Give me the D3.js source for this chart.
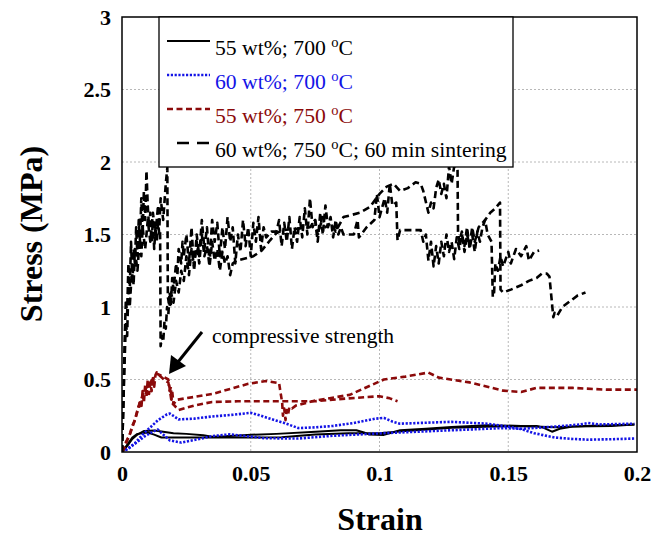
<!DOCTYPE html>
<html>
<head>
<meta charset="utf-8">
<script src="https://cdn.jsdelivr.net/npm/d3@7"></script>
<style>
  html, body { margin: 0; padding: 0; background: #fff; }
  svg { display: block; }
  text { font-family: "Liberation Serif", "Times New Roman", serif; }
</style>
</head>
<body>
<svg id="chart" width="662" height="537"></svg>
<script>
// ---------------- data ----------------
const xTicks = [0, 0.05, 0.1, 0.15, 0.2];
const xTickLabels = ["0", "0.05", "0.1", "0.15", "0.2"];
const yTicks = [0, 0.5, 1, 1.5, 2, 2.5, 3];
const yTickLabels = ["0", "0.5", "1", "1.5", "2", "2.5", "3"];

const seriesNames = ["55 wt%; 700 ", "60 wt%; 700 ", "55 wt%; 750 ", "60 wt%; 750 "];
const seriesSuffix = ["C", "C", "C", "C; 60 min sintering"];

// 55 wt%; 700 °C (two samples)
const k55_700_a = [[0,0],[0.002,0.04],[0.004,0.09],[0.006,0.12],[0.0086,0.145],[0.0126,0.148],[0.016,0.14],[0.02,0.13],[0.025,0.125],[0.0316,0.115],[0.035,0.105],[0.04,0.108],[0.0486,0.118],[0.06,0.125],[0.0752,0.14],[0.085,0.15],[0.091,0.15],[0.094,0.135],[0.096,0.12],[0.1017,0.118],[0.105,0.135],[0.108,0.15],[0.118,0.16],[0.128,0.172],[0.142,0.185],[0.155,0.18],[0.168,0.17],[0.18,0.18],[0.19,0.185],[0.199,0.19]];
const k55_700_b = [[0,0],[0.002,0.05],[0.004,0.1],[0.006,0.125],[0.0099,0.135],[0.0125,0.12],[0.0153,0.1],[0.02,0.1],[0.03,0.1],[0.04,0.1],[0.05,0.1],[0.062,0.102],[0.075,0.12],[0.088,0.13],[0.1,0.13],[0.11,0.145],[0.128,0.168],[0.145,0.175],[0.161,0.18],[0.164,0.165],[0.167,0.14],[0.17,0.16],[0.175,0.175],[0.19,0.18],[0.199,0.19]];

// 60 wt%; 700 °C (two samples)
const b60_700_a = [[0,0],[0.002,0.02],[0.005,0.06],[0.008,0.12],[0.011,0.17],[0.014,0.22],[0.0175,0.26],[0.0186,0.265],[0.022,0.225],[0.028,0.23],[0.035,0.245],[0.042,0.255],[0.0499,0.27],[0.054,0.25],[0.0592,0.22],[0.063,0.2],[0.0685,0.165],[0.075,0.17],[0.082,0.18],[0.09,0.2],[0.0985,0.23],[0.1017,0.235],[0.105,0.21],[0.108,0.195],[0.115,0.2],[0.128,0.208],[0.142,0.195],[0.15,0.175],[0.155,0.158],[0.16,0.13],[0.168,0.1],[0.175,0.09],[0.181,0.085],[0.19,0.088],[0.199,0.093]];
const b60_700_b = [[0,0],[0.003,0.03],[0.006,0.07],[0.009,0.11],[0.012,0.14],[0.0139,0.155],[0.016,0.12],[0.0186,0.08],[0.023,0.065],[0.03,0.09],[0.0352,0.11],[0.042,0.122],[0.048,0.11],[0.0553,0.095],[0.0685,0.093],[0.0819,0.112],[0.1017,0.13],[0.115,0.14],[0.128,0.15],[0.148,0.165],[0.155,0.16],[0.168,0.175],[0.178,0.19],[0.181,0.2],[0.185,0.19],[0.199,0.195]];

// 55 wt%; 750 °C (two samples)
const r55_750_a = [[0,0],[0.001,0.03],[0.002,0.08],[0.003,0.12],[0.004,0.18],[0.005,0.22],[0.006,0.28],[0.0065,0.3],[0.007,0.36],[0.0075,0.3],[0.008,0.42],[0.0085,0.34],[0.009,0.46],[0.0095,0.38],[0.010,0.5],[0.0105,0.4],[0.011,0.48],[0.0115,0.42],[0.012,0.52],[0.0125,0.45],[0.013,0.53],[0.0135,0.55],[0.015,0.52],[0.017,0.49],[0.018,0.48],[0.0185,0.42],[0.019,0.45],[0.0192,0.36],[0.0195,0.42],[0.020,0.33],[0.0212,0.36],[0.035,0.40],[0.049,0.47],[0.056,0.49],[0.061,0.475],[0.0622,0.34],[0.0625,0.25],[0.063,0.3],[0.0635,0.22],[0.064,0.29],[0.0645,0.26],[0.065,0.31],[0.066,0.3],[0.0675,0.32],[0.0752,0.355],[0.0884,0.394],[0.1017,0.5],[0.11,0.52],[0.119,0.548],[0.123,0.513],[0.135,0.48],[0.148,0.423],[0.155,0.414],[0.161,0.442],[0.175,0.442],[0.188,0.43],[0.2,0.43]];
const r55_750_b = [[0,0],[0.001,0.05],[0.003,0.12],[0.005,0.22],[0.0063,0.31],[0.0089,0.43],[0.011,0.48],[0.0135,0.54],[0.016,0.52],[0.018,0.5],[0.0193,0.34],[0.022,0.29],[0.028,0.32],[0.035,0.345],[0.045,0.35],[0.06,0.35],[0.075,0.35],[0.088,0.37],[0.1,0.385],[0.104,0.37],[0.107,0.35]];

// 60 wt%; 750 °C; 60 min sintering (two samples)
const k60_750_a = [[0,0],[0.0005,0.3],[0.001,0.75],[0.0015,1.05],[0.002,0.95],[0.0025,1.3],[0.003,1.1],[0.0035,1.45],[0.004,1.2],[0.0045,1.4],[0.005,1.3],[0.0055,1.55],[0.006,1.35],[0.0065,1.6],[0.007,1.45],[0.0075,1.75],[0.008,1.5],[0.0085,1.8],[0.009,1.6],[0.0095,1.94],[0.010,1.7],[0.0105,1.55],[0.011,1.65],[0.0115,1.45],[0.012,1.6],[0.0125,1.4],[0.013,1.55],[0.0135,1.45],[0.014,1.58],[0.0145,1.5],[0.0148,1.52],[0.0150,0.73],[0.0155,0.8],[0.016,0.76],[0.0165,0.9],[0.017,0.85],[0.0175,1.0],[0.018,0.95],[0.0185,1.1],[0.019,1.02],[0.0195,1.2],[0.020,1.12],[0.021,1.3],[0.0215,1.22],[0.022,1.4],[0.023,1.3],[0.0235,1.45],[0.024,1.35],[0.025,1.5],[0.026,1.3],[0.027,1.55],[0.028,1.25],[0.029,1.5],[0.030,1.35],[0.031,1.6],[0.032,1.4],[0.033,1.55],[0.034,1.3],[0.035,1.6],[0.036,1.45],[0.037,1.58],[0.038,1.35],[0.039,1.55],[0.040,1.4],[0.041,1.62],[0.042,1.45],[0.043,1.55],[0.044,1.3],[0.045,1.5],[0.046,1.38],[0.047,1.6],[0.048,1.42],[0.049,1.55],[0.050,1.35],[0.051,1.58],[0.052,1.45],[0.053,1.62],[0.054,1.4],[0.055,1.55],[0.056,1.48],[0.057,1.5],[0.058,1.52],[0.060,1.52],[0.061,1.6],[0.062,1.42],[0.063,1.58],[0.064,1.45],[0.065,1.62],[0.066,1.4],[0.067,1.55],[0.068,1.45],[0.069,1.62],[0.070,1.48],[0.071,1.68],[0.072,1.5],[0.073,1.75],[0.074,1.55],[0.075,1.6],[0.076,1.45],[0.077,1.65],[0.078,1.5],[0.079,1.7],[0.080,1.55],[0.081,1.62],[0.082,1.48],[0.083,1.6],[0.084,1.5],[0.085,1.55],[0.086,1.5],[0.09,1.5],[0.0915,1.6],[0.092,1.48],[0.095,1.55],[0.098,1.6],[0.099,1.78],[0.100,1.62],[0.102,1.75],[0.103,1.65],[0.104,1.85],[0.105,1.7],[0.1065,1.72],[0.107,1.46],[0.108,1.53],[0.116,1.53],[0.117,1.45],[0.118,1.5],[0.119,1.32],[0.120,1.45],[0.121,1.28],[0.122,1.42],[0.123,1.3],[0.124,1.45],[0.125,1.35],[0.126,1.5],[0.127,1.38],[0.128,1.45],[0.129,1.33],[0.130,1.48],[0.131,1.4],[0.132,1.5],[0.133,1.42],[0.134,1.55],[0.135,1.4],[0.136,1.5],[0.137,1.38],[0.138,1.52],[0.139,1.45],[0.140,1.55],[0.141,1.6],[0.142,1.5],[0.1435,1.45],[0.144,1.07],[0.1445,1.1],[0.145,1.3],[0.146,1.25],[0.147,1.35],[0.148,1.28],[0.150,1.38],[0.151,1.3],[0.153,1.4],[0.155,1.35],[0.157,1.42],[0.158,1.32],[0.160,1.38],[0.162,1.39]];
const k60_750_b = [[0,0],[0.0008,0.5],[0.0015,0.9],[0.002,0.8],[0.0025,1.15],[0.003,1.0],[0.004,1.3],[0.0045,1.15],[0.005,1.4],[0.006,1.25],[0.007,1.5],[0.0075,1.35],[0.008,1.55],[0.009,1.4],[0.010,1.6],[0.011,1.45],[0.012,1.65],[0.013,1.5],[0.014,1.7],[0.0145,1.55],[0.015,1.75],[0.016,1.6],[0.017,1.85],[0.0176,1.96],[0.0178,1.07],[0.0185,1.0],[0.019,1.1],[0.020,1.03],[0.021,1.18],[0.022,1.1],[0.023,1.25],[0.024,1.18],[0.025,1.35],[0.026,1.22],[0.027,1.4],[0.028,1.28],[0.029,1.45],[0.030,1.3],[0.031,1.5],[0.032,1.35],[0.033,1.42],[0.034,1.28],[0.035,1.45],[0.036,1.32],[0.037,1.4],[0.038,1.25],[0.039,1.38],[0.040,1.3],[0.041,1.35],[0.042,1.22],[0.043,1.3],[0.0445,1.32],[0.051,1.35],[0.0543,1.39],[0.0575,1.46],[0.060,1.51],[0.0627,1.53],[0.0678,1.54],[0.073,1.55],[0.075,1.6],[0.076,1.5],[0.078,1.62],[0.079,1.55],[0.081,1.58],[0.083,1.52],[0.086,1.62],[0.0924,1.65],[0.0963,1.69],[0.100,1.78],[0.1028,1.83],[0.1054,1.85],[0.108,1.8],[0.111,1.82],[0.114,1.86],[0.116,1.85],[0.117,1.8],[0.119,1.65],[0.120,1.72],[0.121,1.68],[0.122,1.82],[0.123,1.88],[0.124,1.78],[0.125,1.85],[0.126,1.75],[0.127,1.97],[0.128,1.85],[0.129,1.97],[0.1303,1.96],[0.1305,1.51],[0.131,1.45],[0.132,1.52],[0.133,1.38],[0.134,1.5],[0.135,1.42],[0.136,1.55],[0.137,1.45],[0.1385,1.55],[0.141,1.6],[0.143,1.65],[0.145,1.68],[0.1468,1.72],[0.147,1.12],[0.148,1.1],[0.151,1.12],[0.155,1.15],[0.158,1.18],[0.161,1.2],[0.163,1.23],[0.165,1.23],[0.166,1.21],[0.1675,0.93],[0.168,0.96],[0.169,0.94],[0.171,1.0],[0.174,1.04],[0.177,1.08],[0.180,1.1]];

const annotationText = "compressive strength";

// ---------------- drawing ----------------
const svg = d3.select("#chart");
const mLeft = 122, mRight = 637, mTop = 17, mBottom = 452;

const x = d3.scaleLinear().domain([0, 0.2]).range([mLeft, mRight]);
const y = d3.scaleLinear().domain([0, 3]).range([mBottom, mTop]);

const styles = [
  { color: "#000000", width: 2.0, dash: null, legendDash: null },
  { color: "#1414e6", width: 2.6, dash: "2.2,1.6", legendDash: "2.2,1.6" },
  { color: "#8b0a0a", width: 2.6, dash: "6,3.5", legendDash: "6,3.5" },
  { color: "#000000", width: 2.6, dash: "7,4", legendDash: "12,8" }
];
const groups = [
  [k55_700_a, k55_700_b],
  [b60_700_a, b60_700_b],
  [r55_750_a, r55_750_b],
  [k60_750_a, k60_750_b]
];

svg.append("defs").append("clipPath").attr("id", "clip")
  .append("rect").attr("x", mLeft).attr("y", mTop).attr("width", mRight - mLeft).attr("height", mBottom - mTop);

// grid
const grid = svg.append("g").attr("stroke", "#b8b8b8").attr("stroke-width", 1).attr("stroke-dasharray", "2,2");
grid.selectAll("line.v").data(xTicks.slice(1, -1)).join("line")
  .attr("x1", d => x(d)).attr("x2", d => x(d)).attr("y1", mTop).attr("y2", mBottom);
grid.selectAll("line.h").data(yTicks.slice(1, -1)).join("line")
  .attr("x1", mLeft).attr("x2", mRight).attr("y1", d => y(d)).attr("y2", d => y(d));

// axes
const xAxis = d3.axisBottom(x).tickValues(xTicks).tickFormat((d, i) => xTickLabels[i]).tickSize(0).tickPadding(13);
const gx = svg.append("g").attr("transform", `translate(0,${mBottom})`).call(xAxis);
gx.select(".domain").remove();
gx.selectAll("text").attr("font-family", "Liberation Serif, Times New Roman, serif")
  .attr("font-size", 22).attr("font-weight", "bold").attr("fill", "#000");

const yAxis = d3.axisLeft(y).tickValues(yTicks).tickFormat((d, i) => yTickLabels[i]).tickSize(0).tickPadding(11);
const gy = svg.append("g").attr("transform", `translate(${mLeft},0)`).call(yAxis);
gy.select(".domain").remove();
gy.selectAll("text").attr("font-family", "Liberation Serif, Times New Roman, serif")
  .attr("font-size", 22).attr("font-weight", "bold").attr("fill", "#000");

// curves
const line = d3.line().x(d => x(d[0])).y(d => y(d[1]));
const plot = svg.append("g").attr("clip-path", "url(#clip)");
groups.forEach((g, gi) => {
  const s = styles[gi];
  g.forEach(data => {
    plot.append("path").datum(data)
      .attr("d", line)
      .attr("fill", "none")
      .attr("stroke", s.color)
      .attr("stroke-width", s.width)
      .attr("stroke-linejoin", "round")
      .attr("stroke-dasharray", s.dash);
  });
});

// plot frame
svg.append("rect").attr("x", mLeft).attr("y", mTop).attr("width", mRight - mLeft).attr("height", mBottom - mTop)
  .attr("fill", "none").attr("stroke", "#000").attr("stroke-width", 1.5);

// legend
const lg = svg.append("g");
lg.append("rect").attr("x", 159).attr("y", mTop).attr("width", 354).attr("height", 150)
  .attr("fill", "#fff").attr("stroke", "#000").attr("stroke-width", 1.3);
const legendTextColors = ["#000000", "#1414e6", "#8b0a0a", "#000000"];
seriesNames.forEach((name, i) => {
  const by = 55 + i * 34;
  const s = styles[i];
  lg.append("line")
    .attr("x1", i === 3 ? 177 : 167).attr("x2", 210)
    .attr("y1", by - 14).attr("y2", by - 14)
    .attr("stroke", s.color).attr("stroke-width", i === 0 ? 2 : 2.4)
    .attr("stroke-dasharray", s.legendDash);
  const t = lg.append("text").attr("x", 215).attr("y", by)
    .attr("font-size", 21.7).attr("fill", legendTextColors[i]);
  t.append("tspan").text(name);
  t.append("tspan").attr("font-size", 14.5).attr("dy", -8).text("o");
  t.append("tspan").attr("dy", 8).text(seriesSuffix[i]);
});

// annotation
svg.append("text").attr("x", 212).attr("y", 343).attr("font-size", 21.5).attr("fill", "#000").text(annotationText);
svg.append("line").attr("x1", 202).attr("y1", 332).attr("x2", 178).attr("y2", 362)
  .attr("stroke", "#000").attr("stroke-width", 3);
svg.append("path")
  .attr("d", d3.line()([[169, 374], [171, 355], [186, 366]]) + "Z")
  .attr("fill", "#000");

// axis titles
svg.append("text").attr("x", 380).attr("y", 530).attr("text-anchor", "middle")
  .attr("font-size", 32).attr("font-weight", "bold").text("Strain");
svg.append("text").attr("transform", "translate(42,234) rotate(-90)").attr("text-anchor", "middle")
  .attr("font-size", 32).attr("font-weight", "bold").text("Stress (MPa)");
</script>
</body>
</html>
